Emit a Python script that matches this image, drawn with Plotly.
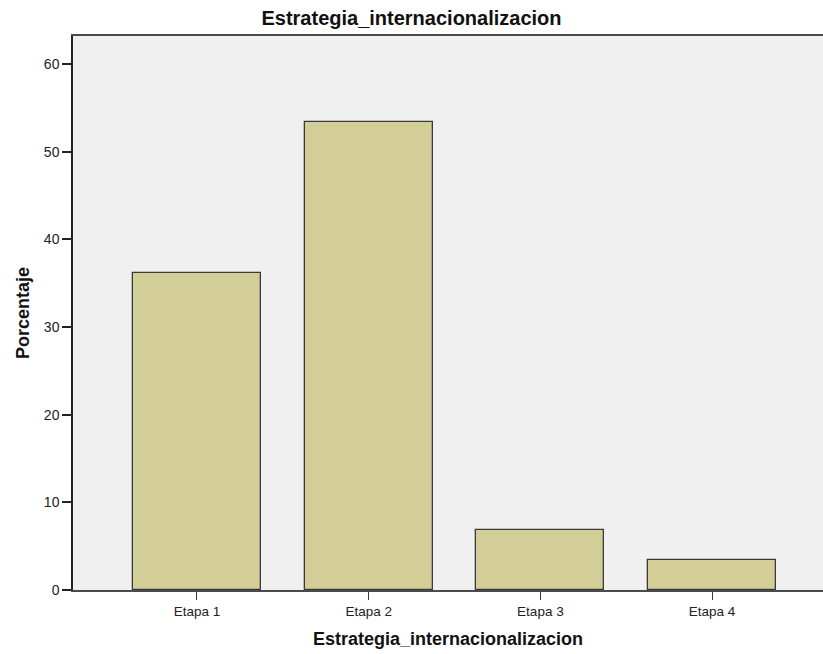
import plotly.graph_objects as go

categories = ["Etapa 1", "Etapa 2", "Etapa 3", "Etapa 4"]
porcentaje = [36.2, 53.4, 6.9, 3.4]
y_ticks = [0, 10, 20, 30, 40, 50, 60]

FONT = "Arial, 'Liberation Sans', sans-serif"

fig = go.Figure(
    go.Bar(
        x=categories,
        y=porcentaje,
        width=0.745,
        marker=dict(color="#D3CE98", line=dict(color="#3A3A3A", width=1.3)),
        hoverinfo="x+y",
    )
)

fig.update_layout(
    width=823,
    height=654,
    margin=dict(l=73, r=0, t=36, b=64),
    paper_bgcolor="white",
    plot_bgcolor="#F0F0F0",
    showlegend=False,
    font=dict(family=FONT, color="#222222", size=12),
    title=dict(
        text="<b>Estrategia_internacionalizacion</b>",
        x=0.5,
        xanchor="center",
        y=1 - 18 / 654,
        yanchor="middle",
        font=dict(size=20, family=FONT, color="#111111"),
    ),
    bargap=0,
)

fig.update_xaxes(
    type="category",
    range=[-0.722, 3.646],
    showline=True,
    linecolor="#4A4A4A",
    linewidth=1.5,
    mirror=True,
    ticks="outside",
    ticklen=8,
    tickcolor="#3A3A3A",
    tickfont=dict(size=13.5, color="#222222"),
    showgrid=False,
    zeroline=False,
    title=dict(
        text="<b>Estrategia_internacionalizacion</b>",
        font=dict(size=18, family=FONT, color="#111111"),
        standoff=14,
    ),
)

fig.update_yaxes(
    range=[0, 63.2],
    tickvals=y_ticks,
    showline=True,
    linecolor="#222222",
    linewidth=1.5,
    ticks="outside",
    ticklen=9,
    tickwidth=1.5,
    tickcolor="#222222",
    tickfont=dict(size=14, color="#222222"),
    showgrid=False,
    zeroline=False,
    title=dict(
        text="<b>Porcentaje</b>",
        font=dict(size=18, family=FONT, color="#111111"),
        standoff=10,
    ),
)

fig.write_html(
    "out.html",
    config={"displayModeBar": False},
    post_script="document.body.style.margin='0';document.body.style.overflow='hidden';",
)
